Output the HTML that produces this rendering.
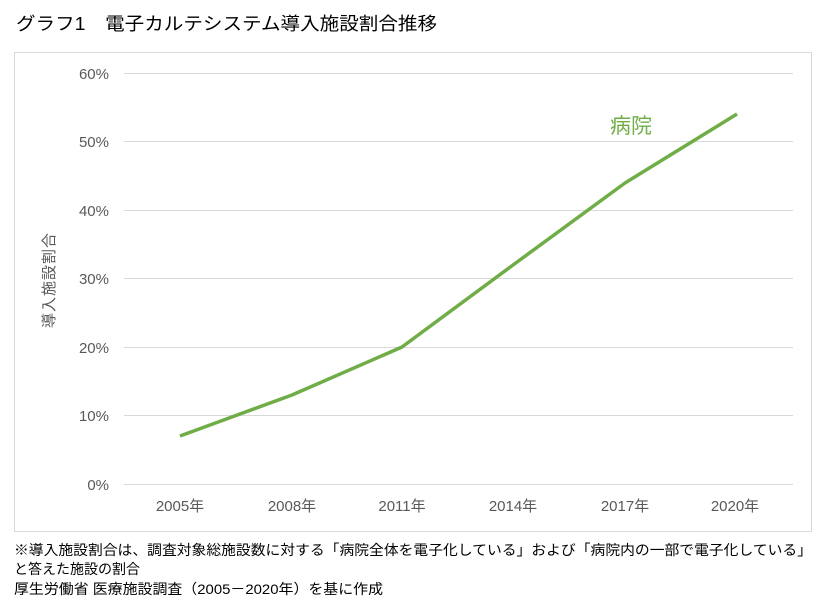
<!DOCTYPE html>
<html><head><meta charset="utf-8"><style>
body{margin:0;background:#fff;width:826px;height:606px;overflow:hidden;font-family:"Liberation Sans","Noto Sans CJK JP",sans-serif}
</style></head><body>
<svg width="826" height="606" xmlns="http://www.w3.org/2000/svg" style="position:absolute;left:0;top:0">
<text x="16" y="30" font-size="18" fill="#000" textLength="421" lengthAdjust="spacingAndGlyphs" font-family="Liberation Sans, Noto Sans CJK JP, sans-serif">グラフ1　電子カルテシステム導入施設割合推移</text>
<rect x="14.5" y="52.5" width="797" height="479" fill="none" stroke="#d9d9d9"/>
<g stroke="#d9d9d9" stroke-width="1">
<line x1="124" x2="793" y1="73.5" y2="73.5"/>
<line x1="124" x2="793" y1="141.5" y2="141.5"/>
<line x1="124" x2="793" y1="210.5" y2="210.5"/>
<line x1="124" x2="793" y1="278.5" y2="278.5"/>
<line x1="124" x2="793" y1="347.5" y2="347.5"/>
<line x1="124" x2="793" y1="415.5" y2="415.5"/>
<line x1="124" x2="793" y1="484.5" y2="484.5"/>
</g>
<g font-size="15" fill="#595959" text-anchor="end" font-family="Liberation Sans, sans-serif">
<text x="109" y="79">60%</text><text x="109" y="147">50%</text><text x="109" y="216">40%</text>
<text x="109" y="284">30%</text><text x="109" y="353">20%</text><text x="109" y="421">10%</text><text x="109" y="490">0%</text>
</g>
<g font-size="15" fill="#595959" text-anchor="middle" font-family="Liberation Sans, Noto Sans CJK JP, sans-serif">
<text x="180" y="511">2005年</text><text x="292" y="511">2008年</text><text x="402" y="511">2011年</text>
<text x="513" y="511">2014年</text><text x="625" y="511">2017年</text><text x="735" y="511">2020年</text>
</g>
<text transform="translate(54,280) rotate(-90)" font-size="15" fill="#595959" text-anchor="middle" letter-spacing="1" font-family="Liberation Sans, Noto Sans CJK JP, sans-serif">導入施設割合</text>
<polyline points="180,436 292,395 402,347 513,265 625,183 737,114" fill="none" stroke="#70ad47" stroke-width="3.5" stroke-linejoin="round"/>
<text x="610" y="133" font-size="21" fill="#70ad47" font-family="Liberation Sans, Noto Sans CJK JP, sans-serif">病院</text>
<g font-size="14" fill="#000" font-family="Liberation Sans, Noto Sans CJK JP, sans-serif">
<text x="14" y="555" textLength="798" lengthAdjust="spacingAndGlyphs">※導入施設割合は、調査対象総施設数に対する「病院全体を電子化している」および「病院内の一部で電子化している」</text>
<text x="14" y="574">と答えた施設の割合</text>
<text x="14" y="594" textLength="369" lengthAdjust="spacingAndGlyphs">厚生労働省 医療施設調査（2005－2020年）を基に作成</text>
</g>
</svg>
</body></html>
